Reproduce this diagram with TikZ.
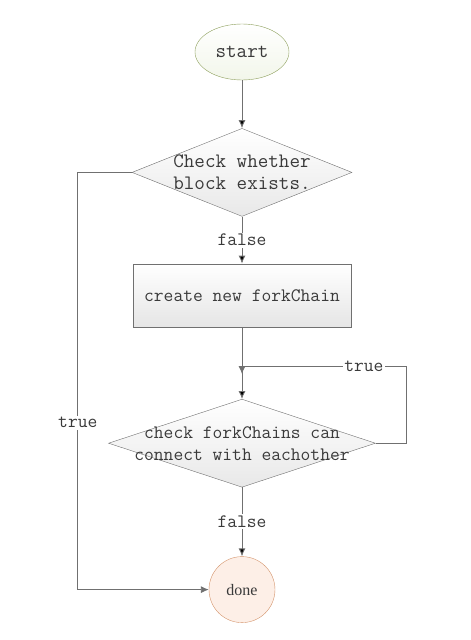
\documentclass[tikz,border=0pt]{standalone}
\usepackage{fontspec}
\setmainfont{Liberation Serif}
\usetikzlibrary{arrows,arrows.meta,positioning,shapes}

\definecolor{linegray}{HTML}{707070}
\definecolor{textdark}{HTML}{3A3A3A}
\definecolor{startline}{HTML}{8C9E5A}
\definecolor{startfill}{HTML}{F2F6EA}
\definecolor{doneline}{HTML}{D4936A}
\definecolor{donefill}{HTML}{FDEFE7}

\begin{document}
\begin{tikzpicture}[x=1pt,y=-1pt]
			\tikzstyle{terminal} = [ellipse, draw=startline, top color=white, bottom color=startfill, minimum width=94pt, minimum height=56pt, inner sep=0pt, text=textdark, font=\ttfamily\fontsize{20.5}{22}\selectfont]
			\tikzstyle{decision} = [diamond, draw=linegray, top color=white, bottom color=black!9, minimum height=88pt, inner ysep=0pt, align=center, text=textdark, font=\ttfamily\fontsize{19}{22}\selectfont]
			\tikzstyle{block} = [rectangle, draw=linegray, top color=white, bottom color=black!10, minimum width=218pt, minimum height=63pt, text=textdark, font=\ttfamily\fontsize{19}{22}\selectfont]
			\tikzstyle{finish} = [circle, draw=doneline, fill=donefill, minimum size=66pt, inner sep=0pt, text=textdark, font=\fontsize{16}{20}\selectfont]
			\tikzstyle{lbl} = [fill=white, inner sep=1.5pt, text=textdark, font=\ttfamily\fontsize{19}{22}\selectfont]
			\tikzstyle{arrow} = [draw=linegray, line width=0.9pt, -{Latex[length=8pt,width=7pt]}]
			\useasboundingbox (0,0) rectangle (471,640);

			\node [terminal] (start) at (242,52) {start};
			\node [decision, below=48pt of start, minimum width=220pt, aspect=2.5, inner xsep=-20pt, font=\ttfamily\fontsize{20.5}{22}\selectfont] (exists) {Check whether\\block exists.};
			\node [block, below=47pt of exists] (fork) {create new forkChain};
			\node [decision, below=72pt of fork, minimum width=267pt, aspect=3.03, inner xsep=-50pt] (check) {check forkChains can\\connect with eachother};
			\node [finish, below=69pt of check] (done) {done};
			\coordinate [below=39pt of fork] (merge);

			\path[arrow] (start) edge (exists);
			\path[arrow] (exists) edge node[lbl] {false} (fork);
			\path[arrow] (fork) edge (check);
			\path[arrow] (check) edge node[lbl] {false} (done);
			\draw[arrow] (check.east) -- ++(31,0) |- node[lbl, pos=0.63] {true} (merge) -- ++(0,8);
			\draw[arrow] (exists.west) -- ++(-54,0) |- node[lbl, pos=0.3] {true} (done.west);
		\end{tikzpicture}
\end{document}
